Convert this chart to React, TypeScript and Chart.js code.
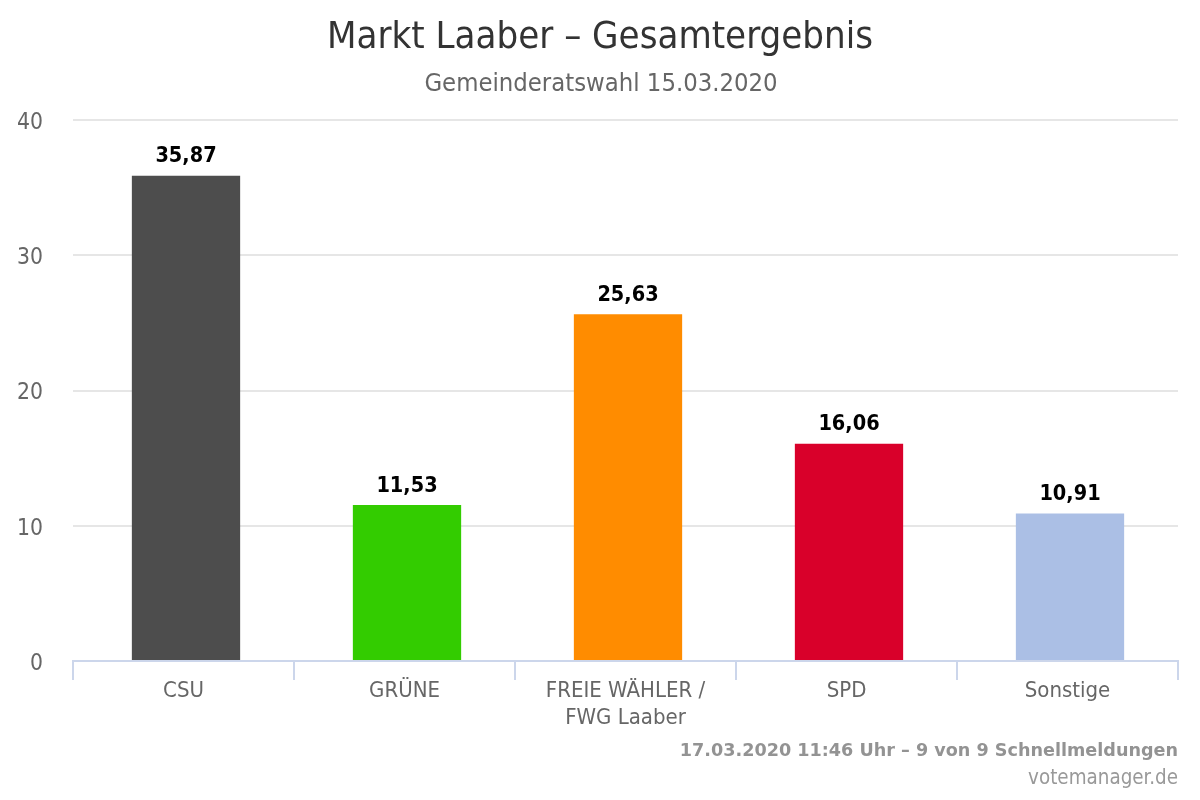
import React, { useEffect, useRef } from "react";
import { Chart, registerables } from "chart.js";

Chart.register(...registerables);

const TITLE = "Markt Laaber – Gesamtergebnis";
const SUBTITLE = "Gemeinderatswahl 15.03.2020";
const FOOTER_STATUS = "17.03.2020 11:46 Uhr – 9 von 9 Schnellmeldungen";
const FOOTER_CREDIT = "votemanager.de";

const categories: (string | string[])[] = [
  "CSU",
  "GRÜNE",
  ["FREIE WÄHLER /", "FWG Laaber"],
  "SPD",
  "Sonstige",
];
const values = [35.87, 11.53, 25.63, 16.06, 10.91];
const barColors = ["#4d4d4d", "#33cc00", "#ff8c00", "#d9002a", "#abbfe5"];
const yMin = 0;
const yMax = 40;
const yStep = 10;

const FONT = "'DejaVu Sans Condensed', 'DejaVu Sans', sans-serif";

const fmt = (v: number) => v.toFixed(2).replace(".", ",");

const BAR_SHIFT = 2.5;

const textPlugin = {
  id: "textPlugin",
  beforeDatasetsDraw(chart: any) {
    chart.ctx.save();
    chart.ctx.translate(BAR_SHIFT, 0);
  },
  afterDatasetsDraw(chart: any) {
    const ctx = chart.ctx as CanvasRenderingContext2D;
    const meta = chart.getDatasetMeta(0);
    ctx.save();
    ctx.textAlign = "center";
    ctx.textBaseline = "alphabetic";
    ctx.fillStyle = "#000000";
    ctx.font = `bold 21.5px ${FONT}`;
    meta.data.forEach((el: any, i: number) => {
      ctx.fillText(fmt(values[i]), el.x, el.y - 13.5);
    });
    ctx.restore();
    ctx.restore();
  },
  afterDraw(chart: any) {
    const ctx = chart.ctx as CanvasRenderingContext2D;
    ctx.save();
    ctx.textBaseline = "alphabetic";
    ctx.textAlign = "center";
    ctx.fillStyle = "#333333";
    ctx.font = `normal 38px ${FONT}`;
    ctx.fillText(TITLE, 600, 48);
    ctx.fillStyle = "#666666";
    ctx.font = `normal 25.4px ${FONT}`;
    ctx.fillText(SUBTITLE, 601, 91);
    ctx.textAlign = "right";
    ctx.fillStyle = "#939393";
    ctx.font = `bold 17.6px 'DejaVu Sans', sans-serif`;
    ctx.fillText(FOOTER_STATUS, 1178, 755.5);
    ctx.fillStyle = "#999999";
    ctx.font = `normal 20.4px ${FONT}`;
    ctx.fillText(FOOTER_CREDIT, 1178, 784);
    ctx.restore();
  },
};

export default function App() {
  const ref = useRef<HTMLCanvasElement | null>(null);

  useEffect(() => {
    document.body.style.margin = "0";
    if (!ref.current) return;
    const chart = new Chart(ref.current, {
      type: "bar",
      data: {
        labels: categories as any,
        datasets: [
          {
            data: values,
            backgroundColor: barColors,
            borderWidth: 0,
            categoryPercentage: 1,
            barPercentage: 0.49,
          },
        ],
      },
      options: {
        animation: false,
        responsive: false,
        devicePixelRatio: 1,
        layout: { padding: { top: 120, right: 22, bottom: 0, left: 0 } },
        plugins: {
          legend: { display: false },
          title: { display: false },
          tooltip: { enabled: false },
        },
        scales: {
          x: {
            grid: {
              display: true,
              offset: true,
              drawOnChartArea: false,
              drawTicks: true,
              tickLength: 19,
              color: "#ccd6eb",
              lineWidth: 2,
            },
            border: { display: true, color: "#ccd6eb", width: 2 },
            ticks: {
              color: "#666666",
              font: { family: FONT, size: 22, lineHeight: 27 / 22 },
              padding: -2,
              maxRotation: 0,
              autoSkip: false,
            },
            afterFit(scale: any) {
              scale.height = 139;
            },
          },
          y: {
            min: yMin,
            max: yMax,
            grid: {
              color: "#e6e6e6",
              lineWidth: 2,
              drawTicks: false,
            },
            border: { display: false },
            ticks: {
              stepSize: yStep,
              color: "#666666",
              font: { family: FONT, size: 22.7 },
              padding: 30,
              labelOffset: 3,
            },
            afterFit(scale: any) {
              scale.width = 73;
            },
          },
        },
      },
      plugins: [textPlugin],
    });
    return () => chart.destroy();
  }, []);

  return (
    <div style={{ position: "absolute", left: 0, top: 0, width: 1200, height: 800, background: "#ffffff" }}>
      <canvas ref={ref} width={1200} height={800} style={{ width: 1200, height: 800, display: "block" }} />
    </div>
  );
}
